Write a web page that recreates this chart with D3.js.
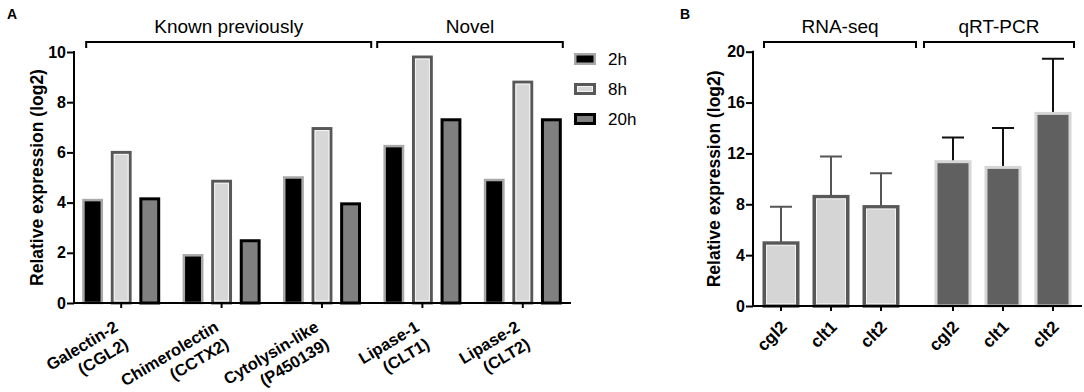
<!DOCTYPE html>
<html><head><meta charset="utf-8">
<script src="https://cdn.jsdelivr.net/npm/d3@7"></script>
<style>
html,body{margin:0;padding:0;background:#fff;}
svg{display:block;font-family:"Liberation Sans",Arial,Helvetica,sans-serif;}
</style></head>
<body>
<svg id="chart" width="1084" height="392"></svg>
<script>
// ---------- Panel A data ----------
const categoriesA = ["Galectin-2", "Chimerolectin", "Cytolysin-like", "Lipase-1", "Lipase-2"];
const categorySubA = ["(CGL2)", "(CCTX2)", "(P450139)", "(CLT1)", "(CLT2)"];
const seriesA = ["2h", "8h", "20h"];
const values2h = [4.1, 1.9, 5.0, 6.25, 4.9];
const values8h = [6.0, 4.85, 6.95, 9.8, 8.8];
const values20h = [4.15, 2.48, 3.95, 7.3, 7.3];
const ticksA = [0, 2, 4, 6, 8, 10];
const bracketsA = ["Known previously", "Novel"];

// ---------- Panel B data ----------
const groupsB = ["RNA-seq", "qRT-PCR"];
const genesB = ["cgl2", "clt1", "clt2"];
const rnaSeqMeans = [4.95, 8.6, 7.8];
const rnaSeqSD = [2.85, 3.15, 2.65];
const qrtMeans = [11.35, 10.9, 15.15];
const qrtSD = [1.9, 3.1, 4.3];
const ticksB = [0, 4, 8, 12, 16, 20];

const svg = d3.select("#chart");
const FONT = '"Liberation Sans",Arial,Helvetica,sans-serif';

// ================= PANEL A =================
const styleA = {
  "2h":  {fill: "#000000", stroke: "#a8a8a8", sw: 2.5, inner: null},
  "8h":  {fill: "#d7d7d7", stroke: "#585858", sw: 3, inner: "#f4f4f4"},
  "20h": {fill: "#808080", stroke: "#000000", sw: 3, inner: null}
};
const valuesBySeries = {"2h": values2h, "8h": values8h, "20h": values20h};

const yA = d3.scaleLinear().domain([0, 10]).range([303, 52]);
const xA = d3.scaleBand().domain(categoriesA).range([71, 573]).paddingInner(0.223).paddingOuter(0.1115);
const xAin = d3.scaleBand().domain(seriesA).range([0, xA.bandwidth()]).paddingInner(0.27);

const gA = svg.append("g");

// panel letter
svg.append("text").attr("x", 7).attr("y", 19).attr("font-size", 14).attr("font-weight", "bold").text("A");

// bars
seriesA.forEach(s => {
  const st = styleA[s];
  const g = gA.append("g");
  g.selectAll("rect").data(categoriesA).join("rect")
    .attr("x", (c) => xA(c) + xAin(s) + st.sw/2)
    .attr("width", xAin.bandwidth() - st.sw)
    .attr("y", (c, i) => yA(valuesBySeries[s][i]))
    .attr("height", (c, i) => yA(0) - yA(valuesBySeries[s][i]))
    .attr("fill", st.fill).attr("stroke", st.stroke).attr("stroke-width", st.sw);
  if (st.inner) {
    g.selectAll("rect.inner").data(categoriesA).join("rect").attr("class", "inner")
      .attr("x", (c) => xA(c) + xAin(s) + st.sw + 0.5)
      .attr("width", xAin.bandwidth() - 2*st.sw - 1)
      .attr("y", (c, i) => yA(valuesBySeries[s][i]) + st.sw/2 + 0.5)
      .attr("height", (c, i) => Math.max(0, yA(0) - yA(valuesBySeries[s][i]) - st.sw - 1))
      .attr("fill", "none").attr("stroke", st.inner).attr("stroke-width", 1);
  }
});

// y axis A
const yAxisA = d3.axisLeft(yA).tickValues(ticksA).tickSize(7).tickPadding(1);
const yAg = gA.append("g").attr("transform", "translate(74,0)").call(yAxisA);
yAg.select(".domain").attr("stroke", "#000").attr("stroke-width", 2).attr("d", `M0,${yA(10)-1}V${yA(0)+1}`);
yAg.selectAll(".tick line").attr("stroke", "#000").attr("stroke-width", 2);
yAg.selectAll(".tick text").attr("font-size", 16).attr("font-weight", "bold").attr("font-family", FONT).attr("fill", "#000");

// x axis A
const xAxisA = d3.axisBottom(xA).tickSize(5).tickFormat("");
const xAg = gA.append("g").attr("transform", `translate(0,${yA(0)})`).call(xAxisA);
xAg.select(".domain").attr("stroke", "#000").attr("stroke-width", 2).attr("d", `M73,0H571`);
xAg.selectAll(".tick line").attr("stroke", "#000").attr("stroke-width", 2);

// x labels A
categoriesA.forEach((c, i) => {
  const cx = xA(c) + xA.bandwidth()/2;
  const t = gA.append("text")
    .attr("transform", `translate(${cx - 2},${yA(0) + 27}) rotate(-31)`)
    .attr("text-anchor", "end").attr("font-size", 16.5).attr("font-weight", "bold");
  t.append("tspan").attr("x", 0).attr("dy", 0).text(c);
  t.append("tspan").attr("x", 0).attr("dy", 20).text(categorySubA[i]);
});

// y title A
gA.append("text").attr("transform", `translate(43,${(yA(0)+yA(10))/2}) rotate(-90)`)
  .attr("text-anchor", "middle").attr("font-size", 17.5).attr("font-weight", "bold").text("Relative expression (log2)");

// brackets
function bracket(g, x1, x2, y, label) {
  g.append("path").attr("d", `M${x1},${y+6}V${y}H${x2}V${y+6}`)
    .attr("fill", "none").attr("stroke", "#000").attr("stroke-width", 2);
  g.append("text").attr("x", (x1+x2)/2).attr("y", y - 9).attr("text-anchor", "middle")
    .attr("font-size", 19).text(label);
}
const cA = (i) => xA(categoriesA[i]) + xA.bandwidth()/2;
const boundA = (cA(2) + cA(3)) / 2;
bracket(gA, cA(0) - 35, boundA - 1, 42, bracketsA[0]);
bracket(gA, boundA + 5, cA(4) + 40, 42, bracketsA[1]);

// legend A
seriesA.forEach((s, i) => {
  const st = styleA[s];
  const y = 59 + i * 30;
  gA.append("rect").attr("x", 574 + st.sw/2).attr("y", y - 6 + st.sw/2)
    .attr("width", 22 - st.sw).attr("height", 12 - st.sw)
    .attr("fill", st.fill).attr("stroke", st.stroke).attr("stroke-width", st.sw);
  if (st.inner) {
    gA.append("rect").attr("x", 574 + st.sw + 0.5).attr("y", y - 6 + st.sw + 0.5)
      .attr("width", 22 - 2*st.sw - 1).attr("height", 12 - 2*st.sw - 1)
      .attr("fill", "none").attr("stroke", st.inner).attr("stroke-width", 1);
  }
  gA.append("text").attr("x", 608).attr("y", y + 6).attr("font-size", 17).text(s);
});

// ================= PANEL B =================
const styleB = {
  "RNA-seq": {fill: "#d5d5d5", stroke: "#585858", sw: 3.5, inner: "#f2f2f2", err: "#555555"},
  "qRT-PCR": {fill: "#606060", stroke: "#d6d6d6", sw: 3, inner: null, err: "#111111"}
};
const meansB = {"RNA-seq": rnaSeqMeans, "qRT-PCR": qrtMeans};
const sdB = {"RNA-seq": rnaSeqSD, "qRT-PCR": qrtSD};

const yB = d3.scaleLinear().domain([0, 20]).range([306, 51.7]);
const xBg = d3.scaleBand().domain(groupsB).range([756, 1078]).paddingInner(22/172).paddingOuter(0);
const xBin = d3.scaleBand().domain(genesB).range([0, xBg.bandwidth()]).paddingInner(0.26).paddingOuter(0.13);

const gB = svg.append("g");
svg.append("text").attr("x", 680).attr("y", 19).attr("font-size", 14).attr("font-weight", "bold").text("B");

groupsB.forEach(grp => {
  const st = styleB[grp];
  const g = gB.append("g");
  const bx = (gene) => xBg(grp) + xBin(gene);
  // error bars
  g.selectAll("path.err").data(genesB).join("path").attr("class", "err")
    .attr("d", (gene, i) => {
      const cx = bx(gene) + xBin.bandwidth()/2;
      const top = yB(meansB[grp][i] + sdB[grp][i]);
      return `M${cx},${yB(meansB[grp][i])}V${top}M${cx-11},${top}H${cx+11}`;
    })
    .attr("fill", "none").attr("stroke", st.err).attr("stroke-width", 2);
  g.selectAll("rect.bar").data(genesB).join("rect").attr("class", "bar")
    .attr("x", (gene) => bx(gene) + st.sw/2)
    .attr("width", xBin.bandwidth() - st.sw)
    .attr("y", (gene, i) => yB(meansB[grp][i]))
    .attr("height", (gene, i) => yB(0) - yB(meansB[grp][i]))
    .attr("fill", st.fill).attr("stroke", st.stroke).attr("stroke-width", st.sw);
  if (st.inner) {
    g.selectAll("rect.inner").data(genesB).join("rect").attr("class", "inner")
      .attr("x", (gene) => bx(gene) + st.sw + 0.5)
      .attr("width", xBin.bandwidth() - 2*st.sw - 1)
      .attr("y", (gene, i) => yB(meansB[grp][i]) + st.sw/2 + 0.5)
      .attr("height", (gene, i) => yB(0) - yB(meansB[grp][i]) - st.sw - 1)
      .attr("fill", "none").attr("stroke", st.inner).attr("stroke-width", 1);
  }
  // x tick marks + labels
  genesB.forEach(gene => {
    const cx = bx(gene) + xBin.bandwidth()/2;
    g.append("line").attr("x1", cx).attr("x2", cx).attr("y1", yB(0)).attr("y2", yB(0) + 5)
      .attr("stroke", "#000").attr("stroke-width", 2);
    g.append("text").attr("transform", `translate(${cx + 7},${yB(0) + 22}) rotate(-45)`)
      .attr("text-anchor", "end").attr("font-size", 17).attr("font-weight", "bold").text(gene);
  });
});

// y axis B
const yAxisB = d3.axisLeft(yB).tickValues(ticksB).tickSize(7).tickPadding(1);
const yBg = gB.append("g").attr("transform", "translate(753,0)").call(yAxisB);
yBg.select(".domain").attr("stroke", "#000").attr("stroke-width", 2).attr("d", `M0,${yB(20)-1}V${yB(0)+1}`);
yBg.selectAll(".tick line").attr("stroke", "#000").attr("stroke-width", 2);
yBg.selectAll(".tick text").attr("font-size", 16).attr("font-weight", "bold").attr("font-family", FONT).attr("fill", "#000");
gB.append("path").attr("d", `M752,${yB(0)}H1082`).attr("stroke", "#000").attr("stroke-width", 2);

gB.append("text").attr("transform", `translate(720,${(yB(0)+yB(20))/2}) rotate(-90)`)
  .attr("text-anchor", "middle").attr("font-size", 17.5).attr("font-weight", "bold").text("Relative expression (log2)");

const boundB = (xBg(groupsB[0]) + xBg.bandwidth() + xBg(groupsB[1])) / 2;
bracket(gB, xBg(groupsB[0]) + 8, boundB - 1, 42, groupsB[0]);
bracket(gB, boundB + 7, xBg(groupsB[1]) + xBg.bandwidth() - 4, 42, groupsB[1]);
</script>
</body></html>
